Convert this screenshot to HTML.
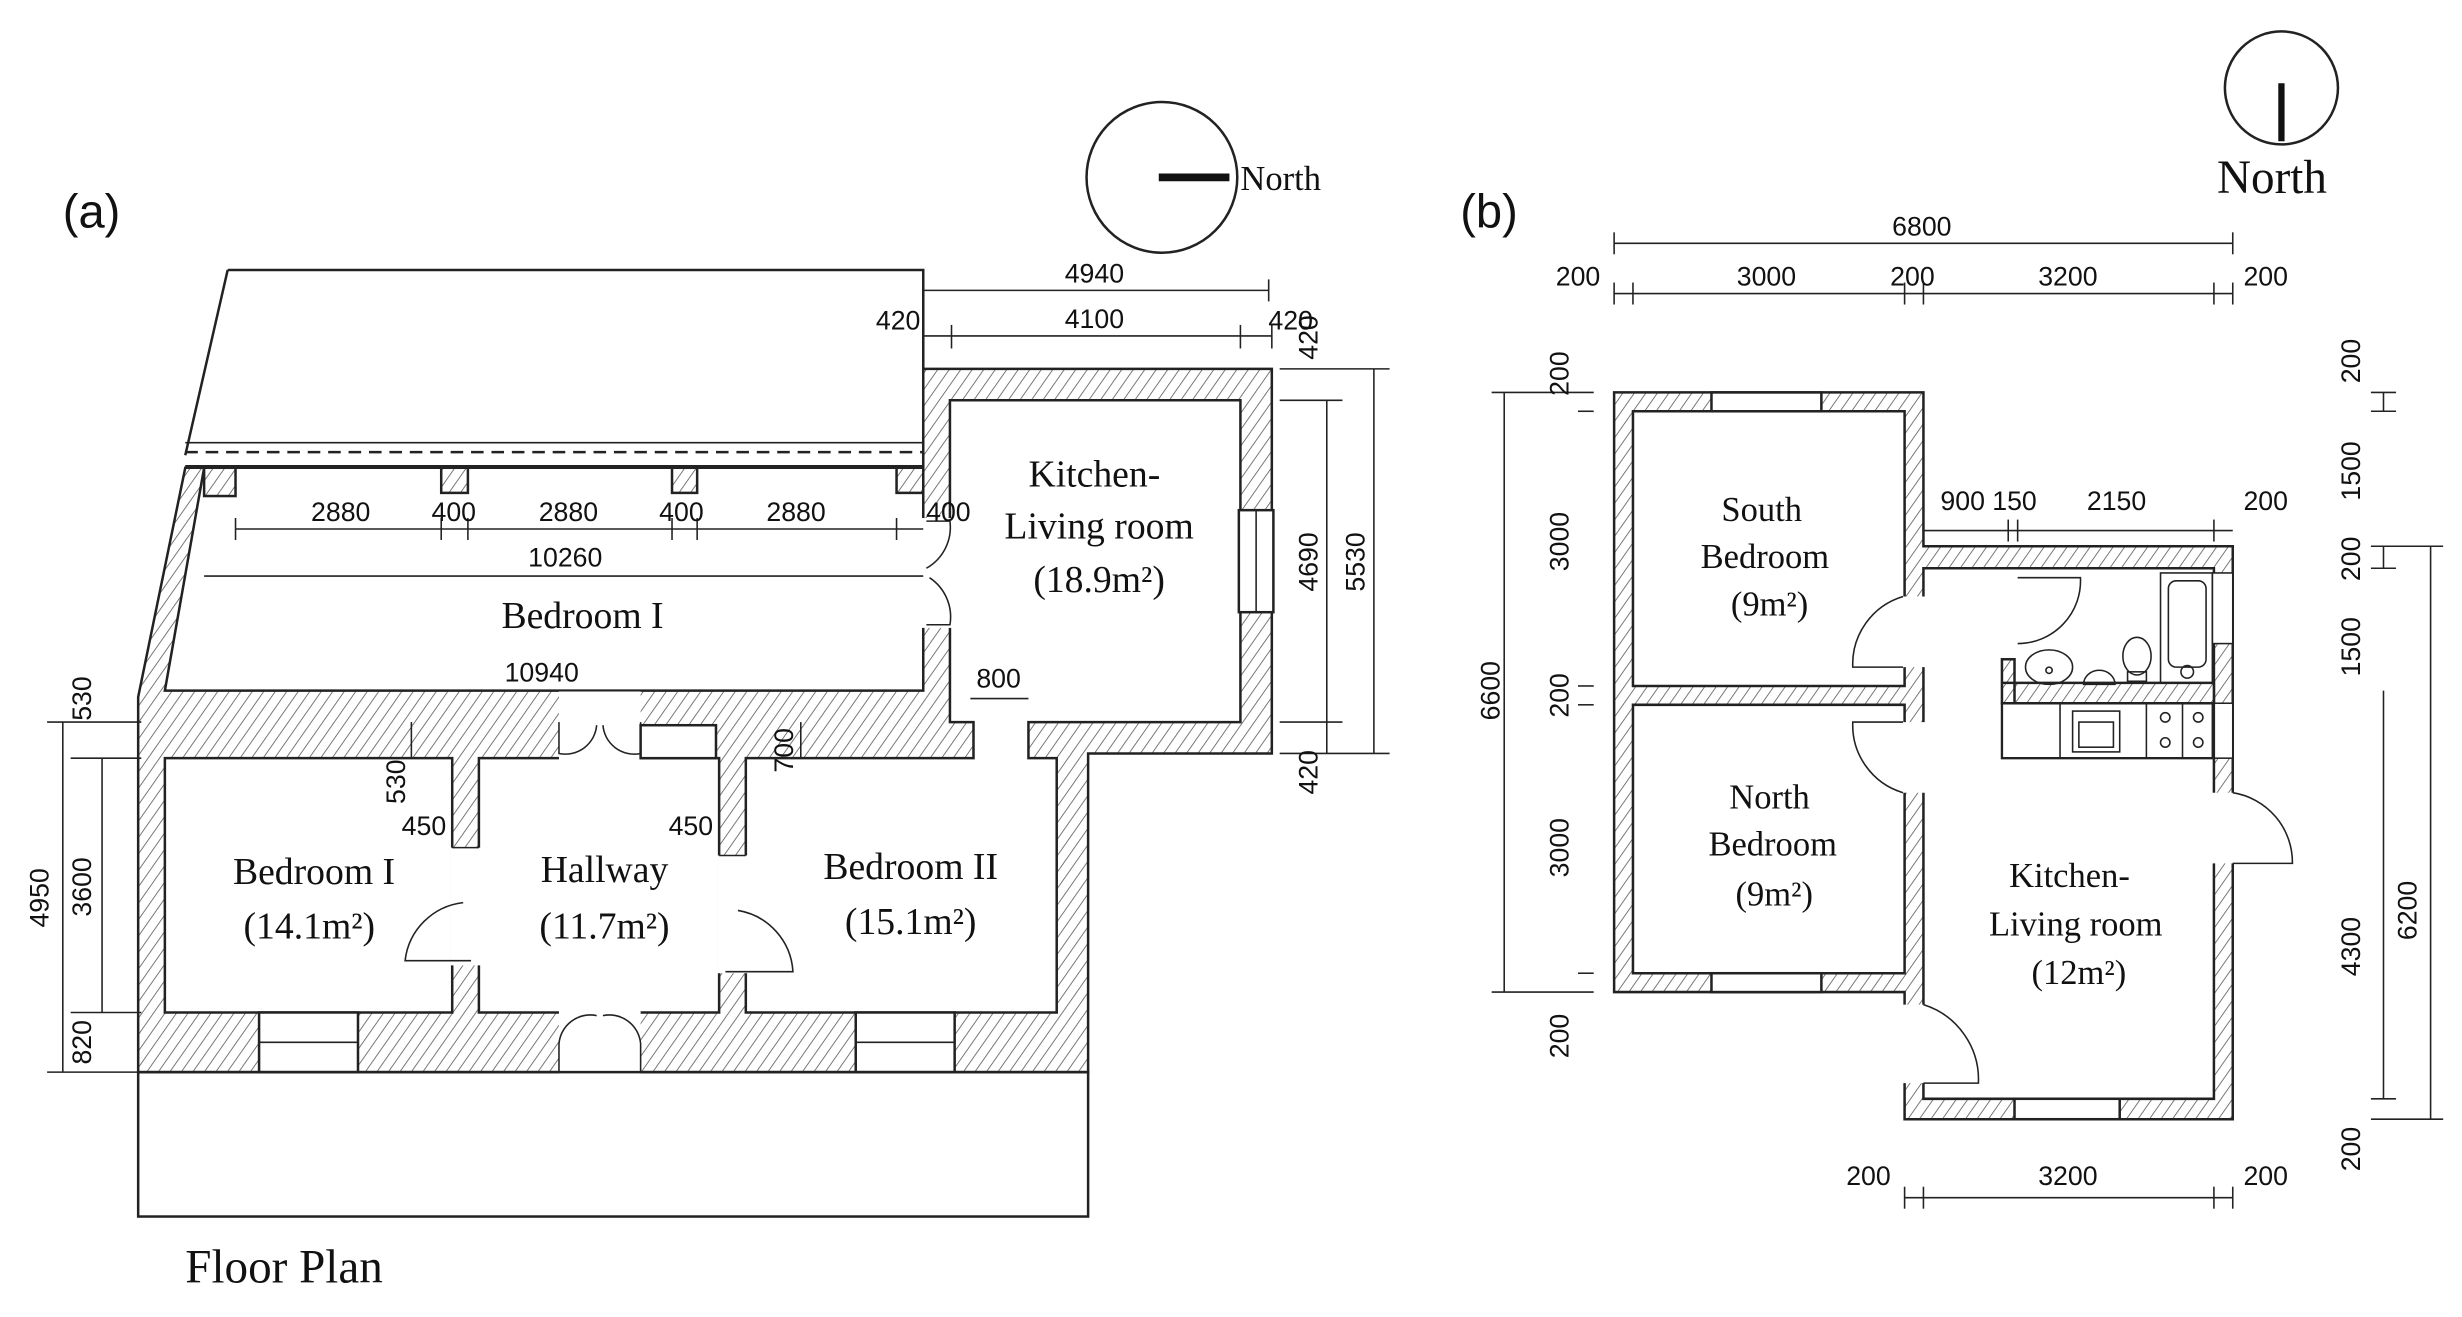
<!DOCTYPE html>
<html><head><meta charset="utf-8"><style>
html,body{margin:0;padding:0;background:#fff;}
svg{display:block;}
.s{font-family:"Liberation Serif",serif;fill:#111;}
.d{font-family:"Liberation Sans Narrow","Liberation Sans",sans-serif;fill:#111;font-size:17px;}
</style></head><body>
<svg width="2462" height="1317" viewBox="0 0 1568 839" preserveAspectRatio="none" xmlns="http://www.w3.org/2000/svg">
<defs>
<pattern id="h" patternUnits="userSpaceOnUse" width="6" height="6" patternTransform="rotate(35)">
<rect width="6" height="6" fill="#fff"/><line x1="0" y1="0" x2="0" y2="6" stroke="#555" stroke-width="1"/>
</pattern>
</defs>
<g stroke="#222" stroke-width="1.6" fill="none">
<path d="M145,172 L588,172 L588,298 M145,172 L118,290"/>
<line x1="118" y1="282" x2="588" y2="282" stroke-width="1"/>
<line x1="118" y1="288" x2="588" y2="288" stroke-dasharray="8,5"/>
<line x1="118" y1="297" x2="588" y2="297"/>
<path fill="url(#h)" fill-rule="evenodd" d="M118,298 L588,298 L588,235 L810,235 L810,480 L693,480 L693,683 L88,683 L88,444 Z
M130,298 L588,298 L588,440 L105,440 Z
M605,255 L790,255 L790,460 L655,460 L655,483 L673,483 L673,645 L475,645 L475,483 L620,483 L620,460 L605,460 Z
M105,483 L288,483 L288,645 L105,645 Z
M305,483 L458,483 L458,645 L305,645 Z"/>
<rect x="130" y="298" width="20" height="18" fill="url(#h)"/>
<rect x="281" y="298" width="17" height="16" fill="url(#h)"/>
<rect x="428" y="298" width="16" height="16" fill="url(#h)"/>
<rect x="571" y="298" width="17" height="16" fill="url(#h)"/>
<rect x="356" y="440" width="52" height="44" fill="#fff" stroke="none"/>
<rect x="408" y="462" width="48" height="21" fill="#fff"/>
<rect x="356" y="644" width="52" height="40" fill="#fff" stroke="none"/>
<rect x="287" y="540" width="20" height="75" fill="#fff" stroke="none"/>
<rect x="457" y="545" width="20" height="75" fill="#fff" stroke="none"/>
<rect x="587" y="330" width="20" height="70" fill="#fff" stroke="none"/>
<rect x="789" y="325" width="22" height="65" fill="#fff"/>
<line x1="800" y1="325" x2="800" y2="390" stroke-width="1"/>
<rect x="165" y="645" width="63" height="38" fill="#fff"/>
<line x1="165" y1="664" x2="228" y2="664" stroke-width="1"/>
<rect x="545" y="645" width="63" height="38" fill="#fff"/>
<line x1="545" y1="664" x2="608" y2="664" stroke-width="1"/>
<g stroke-width="1">
<path d="M356,460 L356,480 A20,20 0 0 0 380,462 M408,460 L408,480 A20,20 0 0 1 384,462"/>
<path d="M356,683 L356,665 A20,20 0 0 1 380,647 M408,683 L408,665 A20,20 0 0 0 384,647"/>
<path d="M300,612 L258,612 A42,42 0 0 1 295,575"/>
<path d="M462,619 L505,619 A42,42 0 0 0 470,580"/>
<path d="M590,332 L605,332 M605,332 A30,30 0 0 1 590,362 M590,398 L605,398 A30,30 0 0 0 592,368"/>
</g>
<rect x="88" y="683" width="605" height="92"/>
<g stroke-width="1">
<line x1="588" y1="185" x2="808" y2="185"/><line x1="588" y1="178" x2="588" y2="235"/><line x1="808" y1="178" x2="808" y2="192"/>
<line x1="588" y1="214" x2="810" y2="214"/><line x1="606" y1="207" x2="606" y2="222"/><line x1="790" y1="207" x2="790" y2="222"/><line x1="810" y1="207" x2="810" y2="222"/>
<line x1="845" y1="255" x2="845" y2="480"/><line x1="875" y1="235" x2="875" y2="480"/>
<line x1="815" y1="235" x2="885" y2="235"/><line x1="815" y1="255" x2="855" y2="255"/><line x1="815" y1="460" x2="855" y2="460"/><line x1="815" y1="480" x2="885" y2="480"/>
<line x1="150" y1="337" x2="588" y2="337"/>
<line x1="150" y1="330" x2="150" y2="344"/><line x1="281" y1="330" x2="281" y2="344"/><line x1="298" y1="330" x2="298" y2="344"/><line x1="428" y1="330" x2="428" y2="344"/><line x1="444" y1="330" x2="444" y2="344"/><line x1="571" y1="330" x2="571" y2="344"/>
<line x1="130" y1="367" x2="588" y2="367"/>
<line x1="105" y1="440" x2="588" y2="440"/>
<line x1="618" y1="445" x2="655" y2="445"/>
<line x1="262" y1="460" x2="262" y2="483"/><line x1="510" y1="460" x2="510" y2="483"/>
<line x1="288" y1="540" x2="305" y2="540"/><line x1="458" y1="545" x2="475" y2="545"/>
<line x1="40" y1="460" x2="40" y2="683"/><line x1="65" y1="483" x2="65" y2="645"/>
<line x1="30" y1="460" x2="90" y2="460"/><line x1="45" y1="483" x2="90" y2="483"/><line x1="45" y1="645" x2="90" y2="645"/><line x1="30" y1="683" x2="90" y2="683"/>
</g>
</g>
<text x="40" y="145" font-family="Liberation Sans,sans-serif" font-size="30" fill="#111">(a)</text>
<text x="118" y="817" class="s" font-size="30">Floor Plan</text>
<g class="s" font-size="24" text-anchor="middle">
<text x="697" y="310">Kitchen-</text><text x="700" y="343">Living room</text><text x="700" y="377">(18.9m²)</text>
<text x="371" y="400">Bedroom I</text>
<text x="200" y="563">Bedroom I</text><text x="197" y="598">(14.1m²)</text>
<text x="385" y="562">Hallway</text><text x="385" y="598">(11.7m²)</text>
<text x="580" y="560">Bedroom II</text><text x="580" y="595">(15.1m²)</text>
</g>
<g class="d" text-anchor="middle">
<text x="697" y="180">4940</text><text x="697" y="209">4100</text>
<text x="572" y="210">420</text><text x="822" y="210">420</text>
<text x="217" y="332">2880</text><text x="289" y="332">400</text><text x="362" y="332">2880</text><text x="434" y="332">400</text><text x="507" y="332">2880</text><text x="604" y="332">400</text>
<text x="360" y="361">10260</text><text x="345" y="434">10940</text><text x="636" y="438">800</text>
<text x="270" y="532">450</text><text x="440" y="532">450</text>
<text transform="translate(839,215) rotate(-90)">420</text>
<text transform="translate(839,358) rotate(-90)">4690</text>
<text transform="translate(869,358) rotate(-90)">5530</text>
<text transform="translate(839,492) rotate(-90)">420</text>
<text transform="translate(505,478) rotate(-90)">700</text>
<text transform="translate(258,498) rotate(-90)">530</text>
<text transform="translate(58,445) rotate(-90)">530</text>
<text transform="translate(31,572) rotate(-90)">4950</text>
<text transform="translate(58,565) rotate(-90)">3600</text>
<text transform="translate(58,664) rotate(-90)">820</text>
</g>
<circle cx="740" cy="113" r="48" fill="none" stroke="#222" stroke-width="1.6"/>
<line x1="738" y1="113" x2="783" y2="113" stroke="#111" stroke-width="5"/>
<text x="790" y="121" class="s" font-size="22">North</text>
<circle cx="1453" cy="56" r="36" fill="none" stroke="#222" stroke-width="1.6"/>
<line x1="1453" y1="53" x2="1453" y2="90" stroke="#111" stroke-width="4"/>
<text x="1412" y="123" class="s" font-size="30">North</text>
<text x="930" y="145" font-family="Liberation Sans,sans-serif" font-size="30" fill="#111">(b)</text>
<g stroke="#222" stroke-width="1.6" fill="none">
<path fill="url(#h)" fill-rule="evenodd" d="M1028,250 L1225,250 L1225,348 L1422,348 L1422,713 L1213,713 L1213,632 L1028,632 Z
M1040,262 L1213,262 L1213,437 L1040,437 Z
M1040,449 L1213,449 L1213,620 L1040,620 Z
M1225,362 L1410,362 L1410,700 L1225,700 L1225,632 L1225,362 Z"/>
<path fill="url(#h)" d="M1275,435 L1410,435 L1410,448 L1275,448 Z M1275,420 L1283,420 L1283,448 L1275,448 Z"/>
<path fill="#fff" stroke="none" d="M1212,380 h14 v45 h-14 z M1212,460 h14 v45 h-14 z M1212,640 h14 v50 h-14 z M1409,505 h14 v45 h-14 z"/>
<rect x="1090" y="250" width="70" height="12" fill="#fff"/>
<rect x="1090" y="620" width="70" height="12" fill="#fff"/>
<rect x="1283" y="700" width="67" height="13" fill="#fff"/>
<rect x="1409" y="365" width="13" height="45" fill="#fff" stroke-width="1"/>
<rect x="1409" y="448" width="13" height="35" fill="#fff" stroke-width="1"/>
<g stroke-width="1">
<path d="M1212,425 L1180,425 A45,45 0 0 1 1212,380"/>
<path d="M1212,460 L1180,460 A45,45 0 0 0 1212,505"/>
<path d="M1225,690 L1260,690 A50,50 0 0 0 1225,640"/>
<path d="M1422,550 L1460,550 A45,45 0 0 0 1422,505"/>
<path d="M1285,368 L1325,368 A40,40 0 0 1 1285,410"/>
<rect x="1376" y="365" width="33" height="70"/><rect x="1381" y="370" width="24" height="55" rx="5"/>
<circle cx="1393" cy="428" r="4"/>
<ellipse cx="1305" cy="425" rx="15" ry="11"/><circle cx="1305" cy="427" r="2"/>
<path d="M1327,436 A10,9 0 0 1 1347,436 Z"/>
<ellipse cx="1361" cy="418" rx="9" ry="12"/><rect x="1355" y="428" width="12" height="6"/>
<rect x="1275" y="448" width="135" height="35" stroke-width="1.5"/>
<line x1="1312" y1="448" x2="1312" y2="483"/><line x1="1367" y1="448" x2="1367" y2="483"/><line x1="1390" y1="448" x2="1390" y2="483"/>
<rect x="1320" y="453" width="30" height="26"/><rect x="1324" y="460" width="22" height="16"/>
<circle cx="1379" cy="457" r="3"/><circle cx="1379" cy="473" r="3"/><circle cx="1400" cy="457" r="3"/><circle cx="1400" cy="473" r="3"/>
<line x1="1028" y1="155" x2="1422" y2="155"/><line x1="1028" y1="148" x2="1028" y2="162"/><line x1="1422" y1="148" x2="1422" y2="162"/>
<line x1="1028" y1="187" x2="1422" y2="187"/>
<line x1="1028" y1="180" x2="1028" y2="194"/><line x1="1040" y1="180" x2="1040" y2="194"/><line x1="1213" y1="180" x2="1213" y2="194"/><line x1="1225" y1="180" x2="1225" y2="194"/><line x1="1410" y1="180" x2="1410" y2="194"/><line x1="1422" y1="180" x2="1422" y2="194"/>
<line x1="1225" y1="338" x2="1422" y2="338"/><line x1="1279" y1="331" x2="1279" y2="345"/><line x1="1285" y1="331" x2="1285" y2="345"/><line x1="1410" y1="331" x2="1410" y2="345"/>
<line x1="958" y1="250" x2="958" y2="632"/><line x1="950" y1="250" x2="1015" y2="250"/><line x1="950" y1="632" x2="1015" y2="632"/>
<line x1="1005" y1="262" x2="1015" y2="262"/><line x1="1005" y1="437" x2="1015" y2="437"/><line x1="1005" y1="449" x2="1015" y2="449"/><line x1="1005" y1="620" x2="1015" y2="620"/>
<line x1="1518" y1="250" x2="1518" y2="262"/><line x1="1510" y1="250" x2="1526" y2="250"/><line x1="1510" y1="262" x2="1526" y2="262"/>
<line x1="1518" y1="348" x2="1518" y2="362"/><line x1="1510" y1="348" x2="1556" y2="348"/><line x1="1510" y1="362" x2="1526" y2="362"/>
<line x1="1510" y1="700" x2="1526" y2="700"/><line x1="1510" y1="713" x2="1556" y2="713"/>
<line x1="1548" y1="348" x2="1548" y2="713"/><line x1="1518" y1="440" x2="1518" y2="700"/>
<line x1="1213" y1="763" x2="1422" y2="763"/><line x1="1213" y1="756" x2="1213" y2="770"/><line x1="1225" y1="756" x2="1225" y2="770"/><line x1="1410" y1="756" x2="1410" y2="770"/><line x1="1422" y1="756" x2="1422" y2="770"/>
</g>
</g>
<g class="s" font-size="22" text-anchor="middle">
<text x="1122" y="332">South</text><text x="1124" y="362">Bedroom</text><text x="1127" y="392">(9m²)</text>
<text x="1127" y="515">North</text><text x="1129" y="545">Bedroom</text><text x="1130" y="577">(9m²)</text>
<text x="1318" y="565">Kitchen-</text><text x="1322" y="596">Living room</text><text x="1324" y="627">(12m²)</text>
</g>
<g class="d" text-anchor="middle" font-size="20">
<text x="1224" y="150">6800</text>
<text x="1005" y="182">200</text><text x="1125" y="182">3000</text><text x="1218" y="182">200</text><text x="1317" y="182">3200</text><text x="1443" y="182">200</text>
<text x="1250" y="325">900</text><text x="1283" y="325">150</text><text x="1348" y="325">2150</text><text x="1443" y="325">200</text>
<text x="1190" y="755">200</text><text x="1317" y="755">3200</text><text x="1443" y="755">200</text>
<text transform="translate(955,440) rotate(-90)">6600</text>
<text transform="translate(999,238) rotate(-90)">200</text>
<text transform="translate(999,345) rotate(-90)">3000</text>
<text transform="translate(999,443) rotate(-90)">200</text>
<text transform="translate(999,540) rotate(-90)">3000</text>
<text transform="translate(999,660) rotate(-90)">200</text>
<text transform="translate(1503,230) rotate(-90)">200</text>
<text transform="translate(1503,300) rotate(-90)">1500</text>
<text transform="translate(1503,356) rotate(-90)">200</text>
<text transform="translate(1503,412) rotate(-90)">1500</text>
<text transform="translate(1503,603) rotate(-90)">4300</text>
<text transform="translate(1503,732) rotate(-90)">200</text>
<text transform="translate(1539,580) rotate(-90)">6200</text>
</g>
</svg>
</body></html>
